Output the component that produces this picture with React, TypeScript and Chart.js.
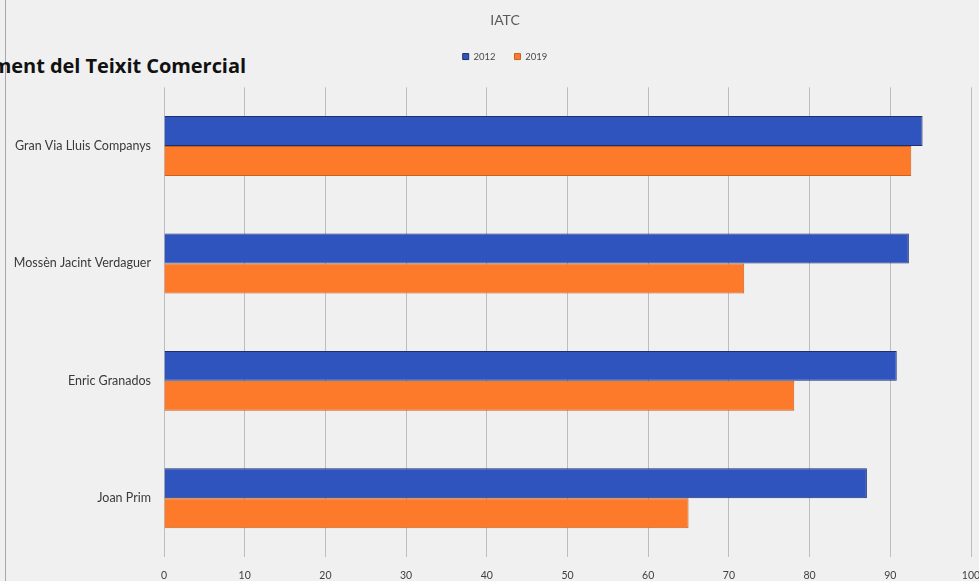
import React, { useEffect, useRef } from "react";
import { Chart, registerables } from "chart.js";

Chart.register(...registerables);

// Streets surveyed and their IATC scores
const categories = [
  "Gran Via Lluis Companys",
  "Mossèn Jacint Verdaguer",
  "Enric Granados",
  "Joan Prim",
];
const values2012 = [94.0, 92.3, 90.8, 87.1];
const values2019 = [92.6, 71.9, 78.1, 65.0];
const seriesLabels = ["2012", "2019"];
const xTicks = [0, 10, 20, 30, 40, 50, 60, 70, 80, 90, 100];

const BLUE = "#2f54bd";
const BLUE_EDGE = "#1d2f6e";
const ORANGE = "#fd7a2a";
const ORANGE_EDGE = "#c9611f";
const FONT = "Lato, 'Open Sans', sans-serif";
const HEADER_SHIFT = 39;

// Adds room under the legend row and centres title + legend over the wider chart frame
const headerLayout = {
  id: "headerLayout",
  beforeInit(chart: any) {
    const legend = chart.legend;
    if (!legend) return;
    const fit = legend.fit;
    legend.fit = function () {
      fit.call(this);
      this.height += 16;
    };
  },
  afterLayout(chart: any) {
    if (chart.titleBlock) chart.titleBlock.left += HEADER_SHIFT;
    if (chart.legend) chart.legend.left += HEADER_SHIFT;
  },
};

export default function App() {
  const canvasRef = useRef<HTMLCanvasElement | null>(null);

  useEffect(() => {
    const canvas = canvasRef.current;
    if (!canvas) return;
    const chart = new Chart(canvas, {
      type: "bar",
      data: {
        labels: categories,
        datasets: [
          {
            label: seriesLabels[0],
            data: values2012,
            backgroundColor: BLUE,
            borderColor: BLUE_EDGE,
            borderWidth: 1,
            categoryPercentage: 0.51,
            barPercentage: 1.0,
          },
          {
            label: seriesLabels[1],
            data: values2019,
            backgroundColor: ORANGE,
            borderColor: ORANGE_EDGE,
            borderWidth: 1,
            categoryPercentage: 0.51,
            barPercentage: 1.0,
          },
        ],
      },
      plugins: [headerLayout],
      options: {
        indexAxis: "y",
        animation: false,
        responsive: false,
        maintainAspectRatio: false,
        layout: { padding: { left: 0, right: 29, top: 0, bottom: 0 } },
        plugins: {
          title: {
            display: true,
            text: "IATC",
            color: "#595959",
            font: { family: FONT, size: 14, weight: "normal" },
            padding: { top: 12, bottom: 4 },
          },
          legend: {
            display: true,
            position: "top",
            labels: {
              boxWidth: 6,
              boxHeight: 6,
              padding: 19,
              color: "#4a4a4a",
              font: { family: FONT, size: 9.5 },
            },
          },
          tooltip: { enabled: false },
        },
        scales: {
          x: {
            type: "linear",
            min: 0,
            max: 100,
            afterBuildTicks: (scale: any) => {
              scale.ticks = xTicks.map((v) => ({ value: v }));
            },
            afterFit: (scale: any) => {
              scale.height = 24;
            },
            grid: { color: "#bdbdbd", lineWidth: 1, drawTicks: false },
            border: { display: false },
            ticks: {
              padding: 12,
              color: "#404040",
              font: { family: FONT, size: 10.5 },
            },
          },
          y: {
            type: "category",
            afterFit: (scale: any) => {
              scale.width = 164;
            },
            grid: { display: false, drawTicks: false },
            border: { display: false },
            ticks: {
              padding: 13,
              color: "#3a3a3a",
              font: { family: FONT, size: 12.5 },
            },
          },
        },
      },
    });
    return () => chart.destroy();
  }, []);

  return (
    <div
      style={{
        position: "fixed",
        left: 0,
        top: 0,
        width: 979,
        height: 581,
        overflow: "hidden",
        background: "#f0f0f0",
      }}
    >
      <div
        style={{
          position: "absolute",
          left: 5,
          top: 0,
          width: 1,
          height: 581,
          background: "#a8a8a8",
        }}
      />
      <div
        style={{
          position: "absolute",
          right: 979 - 246,
          top: 54,
          whiteSpace: "nowrap",
          fontFamily: "'Open Sans', Lato, sans-serif",
          fontWeight: 700,
          fontSize: 20,
          letterSpacing: -0.05,
          color: "#111",
          lineHeight: "24px",
        }}
      >
        ment del Teixit Comercial
      </div>
      <canvas
        ref={canvasRef}
        width={1000}
        height={581}
        style={{ position: "absolute", left: 0, top: 0, width: 1000, height: 581 }}
      />
    </div>
  );
}
